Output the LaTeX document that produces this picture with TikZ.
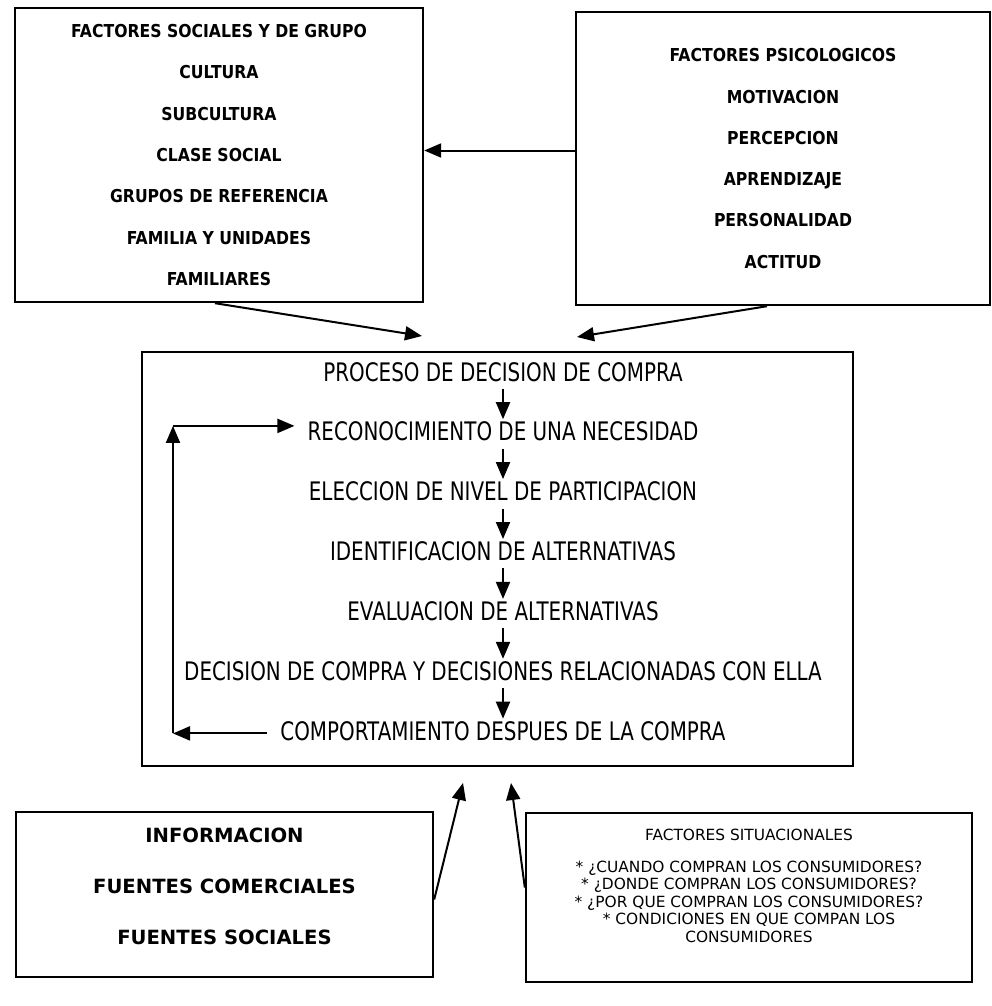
\documentclass[tikz,border=0pt]{standalone}
\usepackage{fontspec}
\setmainfont{DejaVu Sans}
\newfontfamily\pasofont{DejaVu Sans}[FakeStretch=0.78]
\newfontfamily\factfont{DejaVu Sans}[FakeStretch=0.88]
\usetikzlibrary{arrows.meta,positioning}

\begin{document}
\begin{tikzpicture}[x=1pt,y=-1pt,
            caja/.style={draw,line width=2.4pt,align=center},
            paso/.style={font=\pasofont\fontsize{25.5}{25.5}\selectfont,text height=18.5pt,text depth=4.5pt,inner sep=3pt},
            flecha/.style={draw,line width=2pt,-{Triangle[length=17pt,width=14pt]}},
            node distance=30.5pt
            ]
            \useasboundingbox (0,0) rectangle (992,1006);
            % factores externos
            \node[caja,minimum width=408pt,minimum height=294pt,font=\factfont\bfseries\fontsize{17.8}{41.3}\selectfont] (social) at (219,155)
                {FACTORES SOCIALES Y DE GRUPO\\CULTURA\\SUBCULTURA\\CLASE SOCIAL\\GRUPOS DE REFERENCIA\\FAMILIA Y UNIDADES\\FAMILIARES};
            \node[caja,minimum width=414pt,minimum height=293pt,font=\factfont\bfseries\fontsize{17.8}{41.3}\selectfont] (psico) at (783,158.5)
                {FACTORES PSICOLOGICOS\\MOTIVACION\\PERCEPCION\\APRENDIZAJE\\PERSONALIDAD\\ACTITUD};
            \node[caja,minimum width=711pt,minimum height=414pt] (marco) at (497.5,559) {};
            \node[caja,minimum width=417pt,minimum height=165pt] (info) at (224.5,894.5) {};
            \node[align=center,font=\bfseries\fontsize{19.6}{51}\selectfont] (infotxt) at ([yshift=8pt]info.center)
                {INFORMACION\\FUENTES COMERCIALES\\FUENTES SOCIALES};
            \node[caja,minimum width=446pt,minimum height=169pt] (sit) at (749,897.5) {};
            \node[align=center,font=\fontsize{15.4}{17.5}\selectfont] (sittxt) at ([yshift=12pt]sit.center)
                {FACTORES SITUACIONALES\\[14.5pt]
                 * ¿CUANDO COMPRAN LOS CONSUMIDORES?\\
                 * ¿DONDE COMPRAN LOS CONSUMIDORES?\\
                 * ¿POR QUE COMPRAN LOS CONSUMIDORES?\\
                 * CONDICIONES EN QUE COMPAN LOS\\
                 CONSUMIDORES};
            % proceso de decision
            \node[paso] (p0) at (503,374) {PROCESO DE DECISION DE COMPRA};
            \node[paso,below=of p0] (p1) {RECONOCIMIENTO DE UNA NECESIDAD};
            \node[paso,below=of p1] (p2) {ELECCION DE NIVEL DE PARTICIPACION};
            \node[paso,below=of p2] (p3) {IDENTIFICACION DE ALTERNATIVAS};
            \node[paso,below=of p3] (p4) {EVALUACION DE ALTERNATIVAS};
            \node[paso,below=of p4] (p5) {DECISION DE COMPRA Y DECISIONES RELACIONADAS CON ELLA};
            \node[paso,below=of p5] (p6) {COMPORTAMIENTO DESPUES DE LA COMPRA};
            \foreach \a/\b in {p0/p1,p1/p2,p2/p3,p3/p4,p4/p5,p5/p6}
                \draw[flecha] (\a) -- (\b);
            % retroalimentacion
            \coordinate (lazo) at (173,0);
            \draw[flecha,shorten <=10pt] (p6.west) -- (p6.west -| lazo);
            \draw[flecha] (p6.west -| lazo) -- ([yshift=8pt]p1.west -| lazo);
            \draw[flecha,shorten >=10pt] ([yshift=8pt]p1.west -| lazo) -- ([yshift=8pt]p1.west);
            % entradas al proceso
            \coordinate (e1) at (422,336);
            \coordinate (e2) at (577,337);
            \coordinate (e3) at (463,783);
            \coordinate (e4) at (511,783);
            \draw[flecha] ([yshift=8pt]psico.west) -- ([yshift=8pt]psico.west -| social.east);
            \draw[flecha] ([xshift=-4pt]social.south) -- (e1);
            \draw[flecha] ([xshift=-16pt]psico.south) -- (e2);
            \draw[flecha] ([yshift=-5pt]info.east) -- (e3);
            \draw[flecha] ([yshift=10pt]sit.west) -- (e4);
\end{tikzpicture}
\end{document}
